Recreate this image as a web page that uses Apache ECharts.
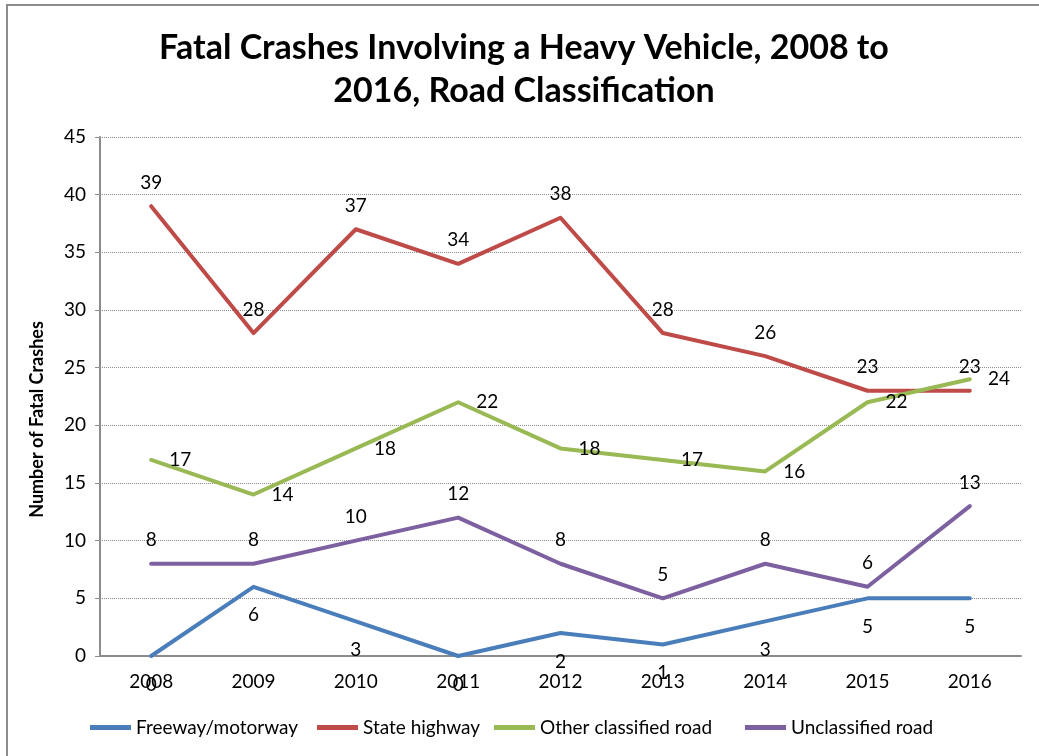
<!DOCTYPE html>
<html>
<head>
<meta charset="utf-8">
<title>Fatal Crashes Involving a Heavy Vehicle</title>
<script src="https://cdn.jsdelivr.net/npm/echarts@6/dist/echarts.min.js"></script>
<style>
  html, body { margin: 0; padding: 0; background: #fff; }
  #chart { width: 1039px; height: 756px; }
</style>
</head>
<body>
<div id="chart"></div>
<script>
const years = ["2008", "2009", "2010", "2011", "2012", "2013", "2014", "2015", "2016"];
const freeway = [0, 6, 3, 0, 2, 1, 3, 5, 5];
const stateHighway = [39, 28, 37, 34, 38, 28, 26, 23, 23];
const otherClassified = [17, 14, 18, 22, 18, 17, 16, 22, 24];
const unclassified = [8, 8, 10, 12, 8, 5, 8, 6, 13];

const seriesNames = ["Freeway/motorway", "State highway", "Other classified road", "Unclassified road"];
const legendLefts = [85, 312, 489, 740];

const font = "Lato, 'Open Sans', sans-serif";

const chart = echarts.init(document.getElementById("chart"));

const makeSeries = (name, data, color, position, distance) => ({
  name,
  type: "line",
  data,
  symbol: "circle",
  symbolSize: 0.1,
  lineStyle: { color, width: 4, cap: "round", join: "round" },
  itemStyle: { color },
  label: {
    show: true,
    position,
    distance,
    color: "#000",
    fontSize: 19,
    fontFamily: font,
  },
});

chart.setOption({
  animation: false,
  title: {
    text: "Fatal Crashes Involving a Heavy Vehicle, 2008 to\n2016, Road Classification",
    left: 519,
    top: 22,
    textAlign: "center",
    textStyle: {
      fontFamily: font,
      fontWeight: "bold",
      fontSize: 34,
      lineHeight: 43,
      color: "#000",
    },
  },
  graphic: [
    {
      type: "rect",
      shape: { x: 7, y: 5, width: 1060, height: 780 },
      style: { fill: "none", stroke: "#8c8c8c", lineWidth: 2 },
      silent: true,
    },
  ],
  legend: seriesNames.map((name, i) => ({
    left: legendLefts[i],
    top: 713,
    itemWidth: 41,
    itemHeight: 5,
    itemGap: 0,
    icon: "rect",
    textStyle: { fontFamily: font, fontSize: 19, color: "#000" },
    data: [name],
  })),
  grid: { left: 100, right: 18, top: 137, bottom: 100 },
  xAxis: {
    type: "category",
    data: years,
    boundaryGap: true,
    axisLine: { lineStyle: { color: "#8c8c8c", width: 2 } },
    axisTick: { show: false },
    axisLabel: { color: "#000", fontSize: 19, fontFamily: font, margin: 16 },
  },
  yAxis: {
    type: "value",
    min: 0,
    max: 45,
    interval: 5,
    name: "Number of Fatal Crashes",
    nameLocation: "middle",
    nameGap: 54,
    nameTextStyle: {
      fontFamily: font,
      fontWeight: "bold",
      fontSize: 18,
      color: "#000",
      padding: [0, 46, 0, 0],
    },
    axisLine: { show: true, lineStyle: { color: "#8c8c8c", width: 2 } },
    axisTick: { show: true, length: 5, lineStyle: { color: "#8c8c8c", width: 1 } },
    axisLabel: { color: "#000", fontSize: 19, fontFamily: font, margin: 14 },
    splitLine: { lineStyle: { type: "dotted", color: "#8c8c8c", width: 1 } },
  },
  series: [
    makeSeries(seriesNames[0], freeway, "#4a7ebb", "bottom", 19),
    makeSeries(seriesNames[1], stateHighway, "#be4b48", "top", 14),
    makeSeries(seriesNames[2], otherClassified, "#98b954", "right", 18),
    makeSeries(seriesNames[3], unclassified, "#7d60a0", "top", 14),
  ],
});
</script>
</body>
</html>
